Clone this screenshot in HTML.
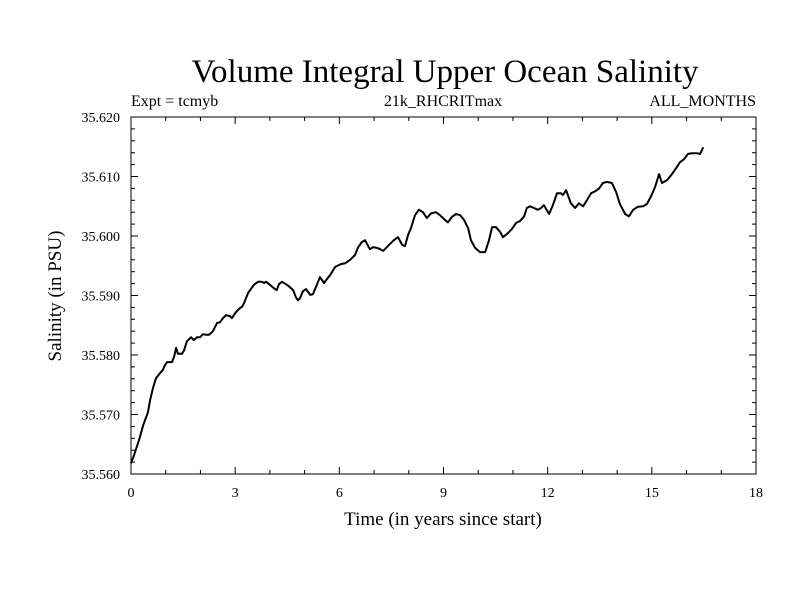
<!DOCTYPE html>
<html><head><meta charset="utf-8"><style>
html,body{margin:0;padding:0;background:#fff;}
svg{display:block;font-family:"Liberation Serif",serif;}
</style></head><body>
<svg id="chart" width="800" height="600" viewBox="0 0 800 600">
<rect width="800" height="600" fill="#fff"/>
<text x="445" y="82" font-size="33" text-anchor="middle">Volume Integral Upper Ocean Salinity</text>
<text x="131" y="106" font-size="16">Expt = tcmyb</text>
<text x="443" y="106" font-size="16" text-anchor="middle">21k_RHCRITmax</text>
<text x="756" y="106" font-size="16" text-anchor="end">ALL_MONTHS</text>
<text x="443" y="525" font-size="19" text-anchor="middle">Time (in years since start)</text>
<text transform="translate(61,296) rotate(-90)" font-size="19" text-anchor="middle">Salinity (in PSU)</text>
<g id="axes"></g>
<path id="line" fill="none" stroke="#000" stroke-width="2" stroke-linejoin="round"/>
</svg>
<script>
const years=[0,0.09,0.23,0.35,0.49,0.55,0.63,0.72,0.84,0.92,0.98,1.04,1.12,1.18,1.24,1.30,1.35,1.47,1.53,1.61,1.73,1.81,1.90,1.99,2.07,2.16,2.25,2.36,2.48,2.56,2.65,2.74,2.85,2.91,3.02,3.14,3.20,3.25,3.37,3.54,3.66,3.77,3.83,3.89,4.00,4.12,4.20,4.26,4.35,4.49,4.58,4.67,4.75,4.81,4.87,4.95,5.04,5.16,5.24,5.36,5.44,5.56,5.65,5.73,5.88,6.05,6.16,6.31,6.45,6.54,6.65,6.74,6.88,6.97,7.09,7.17,7.26,7.40,7.57,7.69,7.81,7.89,7.98,8.06,8.18,8.29,8.41,8.52,8.64,8.78,8.90,9.04,9.13,9.24,9.36,9.48,9.59,9.71,9.79,9.91,10.05,10.20,10.31,10.40,10.51,10.63,10.71,10.86,10.97,11.09,11.20,11.32,11.40,11.49,11.61,11.72,11.81,11.89,12.04,12.15,12.27,12.38,12.44,12.53,12.67,12.79,12.90,13.02,13.13,13.25,13.36,13.48,13.59,13.71,13.85,13.97,14.08,14.23,14.34,14.46,14.60,14.75,14.86,14.98,15.09,15.21,15.29,15.44,15.58,15.70,15.81,15.93,16.04,16.16,16.30,16.39,16.48,16.62];
const salinity=[35.5618,35.5632,35.5657,35.5682,35.5704,35.5724,35.5744,35.5761,35.5770,35.5775,35.5783,35.5788,35.5788,35.5788,35.5797,35.5812,35.5802,35.5802,35.5808,35.5823,35.5830,35.5825,35.5830,35.5830,35.5835,35.5834,35.5834,35.5840,35.5854,35.5855,35.5862,35.5867,35.5865,35.5862,35.5872,35.5879,35.5881,35.5886,35.5904,35.5918,35.5923,35.5923,35.5921,35.5923,35.5918,35.5912,35.5909,35.5919,35.5923,35.5918,35.5914,35.5909,35.5897,35.5892,35.5896,35.5907,35.5911,35.5901,35.5902,35.5919,35.5931,35.5921,35.5928,35.5934,35.5948,35.5953,35.5954,35.5960,35.5968,35.5981,35.5990,35.5993,35.5978,35.5981,35.5980,35.5978,35.5975,35.5983,35.5993,35.5998,35.5985,35.5983,35.6002,35.6013,35.6035,35.6044,35.6040,35.6030,35.6038,35.6040,35.6035,35.6027,35.6023,35.6032,35.6037,35.6035,35.6027,35.6013,35.5993,35.5980,35.5973,35.5973,35.5993,35.6015,35.6015,35.6007,35.5998,35.6005,35.6012,35.6022,35.6025,35.6033,35.6047,35.6050,35.6047,35.6044,35.6047,35.6052,35.6037,35.6052,35.6072,35.6072,35.6069,35.6077,35.6055,35.6047,35.6055,35.6050,35.6060,35.6072,35.6075,35.6080,35.6089,35.6091,35.6089,35.6074,35.6054,35.6037,35.6033,35.6044,35.6049,35.6050,35.6054,35.6067,35.6082,35.6104,35.6089,35.6094,35.6104,35.6114,35.6124,35.6129,35.6138,35.6139,35.6139,35.6138,35.6149];
const xTickLabels=["0","3","6","9","12","15","18"];
const yTickLabels=["35.560","35.570","35.580","35.590","35.600","35.610","35.620"];
const X0=131,X1=756,Y0=474,Y1=117,XMIN=0,XMAX=18,YMIN=35.56,YMAX=35.62;
const sx=v=>X0+(v-XMIN)/(XMAX-XMIN)*(X1-X0);
const sy=v=>Y0-(v-YMIN)/(YMAX-YMIN)*(Y0-Y1);
const NS="http://www.w3.org/2000/svg";
const g=document.getElementById('axes');
function ln(x1,y1,x2,y2,name){const l=document.createElementNS(NS,'line');l.setAttribute('x1',x1);l.setAttribute('y1',y1);l.setAttribute('x2',x2);l.setAttribute('y2',y2);l.setAttribute('stroke','#000');l.setAttribute('stroke-width','1');


g.appendChild(l);}
const fr=document.createElementNS(NS,'rect');
fr.setAttribute('x',X0);fr.setAttribute('y',Y1);fr.setAttribute('width',X1-X0);fr.setAttribute('height',Y0-Y1);fr.setAttribute('fill','none');fr.setAttribute('stroke','#000');


g.appendChild(fr);
for(let i=0;i<=18;i++){const x=sx(i);const L=i%3==0?7:4;ln(x,Y0,x,Y0-L,'x-tick');ln(x,Y1,x,Y1+L,'x-tick-top');}
for(let i=0;i<=30;i++){const v=YMIN+i*0.002;const y=sy(v);const L=i%5==0?7:4;ln(X0,y,X0+L,y,'y-tick');ln(X1,y,X1-L,y,'y-tick-right');}
xTickLabels.forEach(s=>{const t=document.createElementNS(NS,'text');t.setAttribute('x',sx(+s));t.setAttribute('y',497);t.setAttribute('font-size','14');t.setAttribute('text-anchor','middle');t.textContent=s;


g.appendChild(t);});
yTickLabels.forEach(s=>{const t=document.createElementNS(NS,'text');t.setAttribute('x',120);t.setAttribute('y',sy(+s)+5);t.setAttribute('font-size','14');t.setAttribute('text-anchor','end');t.textContent=s;


g.appendChild(t);});
document.getElementById('line').setAttribute('d',years.map((t,i)=>(i?'L':'M')+sx(t).toFixed(1)+' '+sy(salinity[i]).toFixed(1)).join(' '));
</script>
</body></html>
